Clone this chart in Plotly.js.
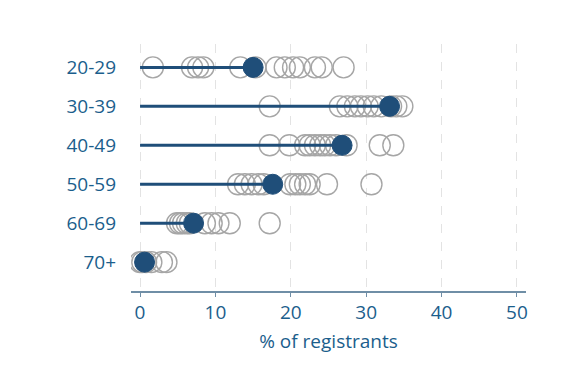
<!DOCTYPE html>
<html>
<head>
<meta charset="utf-8">
<script src="https://cdn.plot.ly/plotly-3.0.1.min.js"></script>
<style>html,body{margin:0;padding:0;background:#fff;}#chart{width:588px;height:378px;}</style>
</head>
<body>
<div id="chart"></div>
<script>
// Age groups (top to bottom)
const ageGroups = ["20-29", "30-39", "40-49", "50-59", "60-69", "70+"];
// Overall share (%) of registrants per age group (filled dots)
const overallPct = [15.0, 33.1, 26.8, 17.6, 7.1, 0.6];
// Individual values (hollow circles) per age group
const groupPct2029 = [1.7, 6.9, 7.7, 8.4, 13.3, 15.3, 18.1, 19.2, 20.3, 21.2, 23.2, 24.1, 27.0];
const groupPct3039 = [17.2, 26.5, 27.5, 28.5, 29.3, 30.2, 31.0, 32.0, 33.3, 34.0, 34.8];
const groupPct4049 = [17.2, 19.8, 21.9, 22.5, 23.2, 23.9, 24.5, 25.2, 26.0, 27.4, 31.8, 33.6];
const groupPct5059 = [13.0, 13.9, 14.8, 15.7, 16.4, 19.9, 20.6, 21.2, 21.9, 22.5, 24.8, 30.7];
const groupPct6069 = [4.9, 5.3, 5.7, 6.2, 6.6, 8.6, 9.5, 10.4, 11.9, 17.2];
const groupPct70 = [0.0, 0.3, 0.8, 1.5, 2.9, 3.5];
const xTicks = [0, 10, 20, 30, 40, 50];

const groups = [groupPct2029, groupPct3039, groupPct4049, groupPct5059, groupPct6069, groupPct70];
const hx = [], hy = [];
groups.forEach((arr, i) => arr.forEach(v => { hx.push(v); hy.push(ageGroups[i]); }));

const sx = [], sy = [];
overallPct.forEach((v, i) => { sx.push(0, v, null); sy.push(ageGroups[i], ageGroups[i], null); });

const textColor = "#1b5e8c";
const dark = "#1f4e79";
const font = "Open Sans, sans-serif";

const traces = [
  {type: "scatter", mode: "markers", x: hx, y: hy, hoverinfo: "skip",
   marker: {symbol: "circle-open", size: 21, color: "#a6a6a6", line: {width: 1.4, color: "#a6a6a6"}}},
  {type: "scatter", mode: "lines", x: sx, y: sy, line: {color: dark, width: 3}, hoverinfo: "skip"},
  {type: "scatter", mode: "markers", x: overallPct, y: ageGroups,
   marker: {symbol: "circle", size: 20, color: dark, line: {width: 1, color: dark}}}
];

const layout = {
  width: 588, height: 378,
  paper_bgcolor: "#fff", plot_bgcolor: "#fff",
  showlegend: false,
  margin: {l: 131, r: 62, t: 44, b: 87},
  font: {family: font, color: textColor},
  xaxis: {
    range: [-1.2, 51.2], tickvals: xTicks, ticktext: xTicks.map(String),
    showline: true, linecolor: "#6f8ea6", linewidth: 1.5,
    ticks: "outside", ticklen: 4, tickcolor: "#6f8ea6", tickwidth: 1,
    showgrid: true, gridcolor: "#e3e3e3", griddash: "dash", gridwidth: 1,
    zeroline: false, tickfont: {size: 19, color: textColor, family: font},
    title: {text: "% of registrants", font: {size: 19, color: textColor, family: font}, standoff: 10}
  },
  yaxis: {
    type: "category", categoryorder: "array", categoryarray: ageGroups,
    range: [5.74, -0.6], showgrid: false, zeroline: false, showline: false,
    ticks: "", ticklabelstandoff: 14,
    tickfont: {size: 19, color: textColor, family: font}
  }
};

Plotly.newPlot("chart", traces, layout, {staticPlot: true, displayModeBar: false});
</script>
</body>
</html>
